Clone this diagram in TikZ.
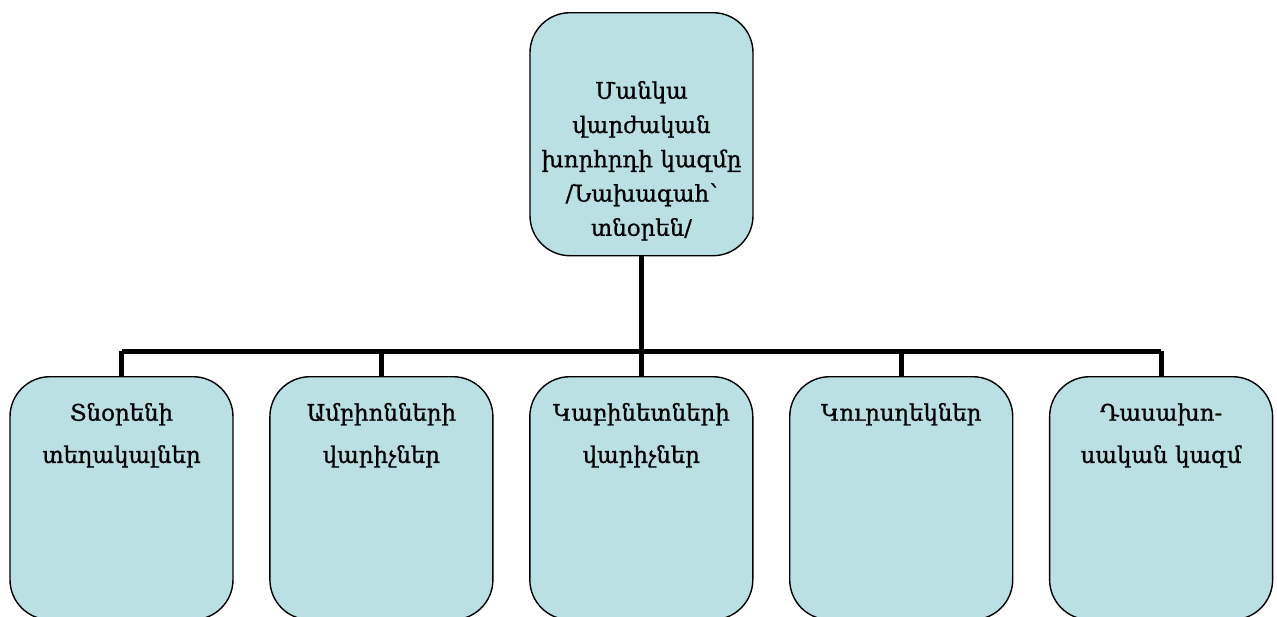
\documentclass[tikz,border=0pt]{standalone}
\usepackage{fontspec}
\setmainfont{DejaVu Serif}[FakeBold=1]
\usetikzlibrary{positioning}
\definecolor{boxfill}{HTML}{BBE0E3}
\tikzset{
    box/.style={draw, line width=0.8pt, rounded corners=0.8cm, fill=boxfill,
        anchor=north, align=center, inner sep=0pt, text width=4.46cm,
        text height=0.88cm, text depth=3.98cm,
        font=\fontsize{13}{24}\selectfont},
    headbox/.style={box, text height=1.72cm, text depth=3.14cm,
        font=\fontsize{13}{19.5}\selectfont},
    bus/.style={line width=2.8pt}
}

\begin{document}
\begin{tikzpicture}
    \useasboundingbox (0,0) rectangle (25.54,-12.32);
    % council and its members
    \node[headbox] (head) at (12.83,-0.24) {Մանկա\\վարժական\\խորհրդի կազմը\\/Նախագահ՝\\տնօրեն/};
    \node[box] (b1) at (2.43,-7.52) {Տնօրենի\\տեղակալներ};
    \node[box] (b2) [right=0.71cm of b1] {Ամբիոնների\\վարիչներ};
    \node[box] (b3) [right=0.71cm of b2] {Կաբինետների\\վարիչներ};
    \node[box] (b4) [right=0.71cm of b3] {Կուրսղեկներ};
    \node[box] (b5) [right=0.71cm of b4] {Դասախո-\\սական կազմ};
    % connectors
    \path (head.south) ++(0,-1.9) coordinate (hub);
    \draw[bus] (head.south) -- (hub);
    \draw[bus] (hub -| b1.north) -- (hub -| b5.north);
    \foreach \b in {b1,b2,b3,b4,b5}
        \draw[bus] (hub -| \b.north) -- (\b.north);
\end{tikzpicture}
\end{document}
